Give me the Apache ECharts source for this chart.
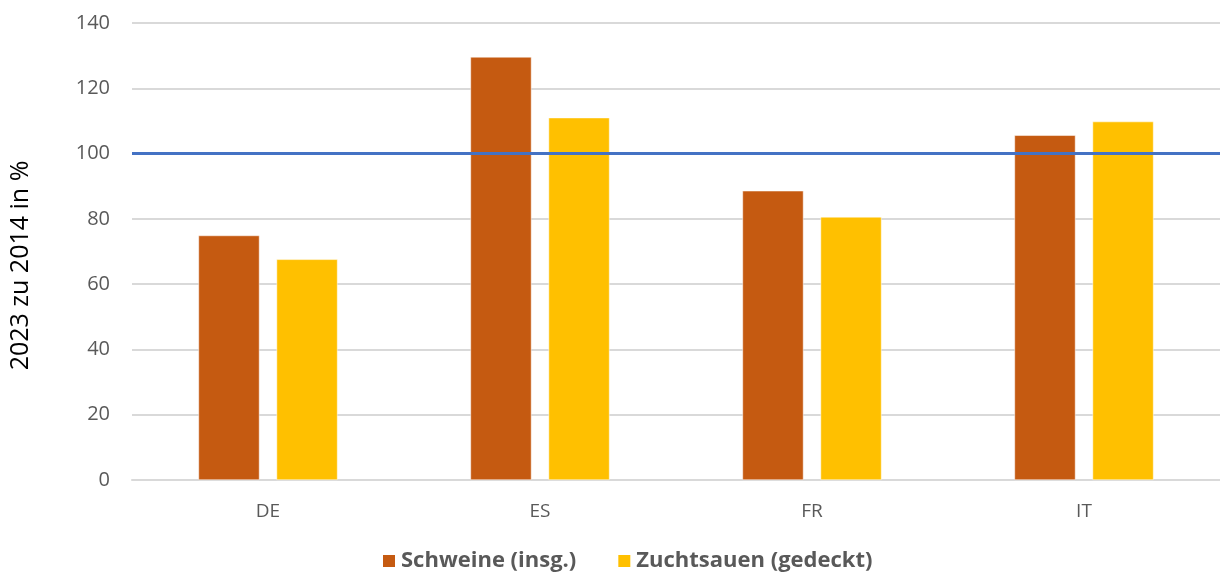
<!DOCTYPE html>
<html>
<head>
<meta charset="utf-8">
<script src="https://cdn.jsdelivr.net/npm/echarts@6/dist/echarts.min.js"></script>
<style>
  html, body { margin: 0; padding: 0; background: #fff; }
  #chart { width: 1220px; height: 573px; }
</style>
</head>
<body>
<div id="chart"></div>
<script>
// Bestandsentwicklung 2023 gegenüber 2014 (2014 = 100)
const countries = ['DE', 'ES', 'FR', 'IT'];
const schweine = [74.9, 129.6, 88.6, 105.6];
const zuchtsauen = [67.6, 111.0, 80.6, 109.8];
const yTicks = { min: 0, max: 140, interval: 20 };
const baseline = 100;
const seriesNames = ['Schweine (insg.)', 'Zuchtsauen (gedeckt)'];

const font = '"Open Sans", "Liberation Sans", sans-serif';
const chart = echarts.init(document.getElementById('chart'));

chart.setOption({
  animation: false,
  textStyle: { fontFamily: font },
  grid: { left: 132, right: 0, top: 23, bottom: 93 },
  legend: {
    data: seriesNames,
    top: 545,
    left: 376,
    itemWidth: 14,
    itemHeight: 14,
    itemGap: 40,
    icon: 'rect',
    textStyle: { color: '#595959', fontSize: 22, fontWeight: 'bold', fontFamily: font }
  },
  xAxis: {
    type: 'category',
    data: countries,
    axisLine: { lineStyle: { color: '#D9D9D9', width: 2 } },
    axisTick: { show: false },
    axisLabel: { color: '#595959', fontSize: 19, margin: 22, fontFamily: font }
  },
  yAxis: {
    type: 'value',
    min: yTicks.min,
    max: yTicks.max,
    interval: yTicks.interval,
    name: '2023 zu 2014 in %',
    nameLocation: 'middle',
    nameGap: 99,
    nameTextStyle: { color: '#000', fontSize: 25, fontFamily: font, padding: [0, 28, 0, 0] },
    axisLine: { show: false },
    axisTick: { show: false },
    axisLabel: { color: '#595959', fontSize: 20, margin: 22, fontFamily: font },
    splitLine: { lineStyle: { color: '#D9D9D9', width: 2 } }
  },
  series: [
    {
      name: seriesNames[0],
      type: 'bar',
      data: schweine,
      barWidth: 61,
      barGap: '28%',
      itemStyle: { color: '#C55A11', borderColor: '#fff', borderWidth: 0.5 },
      markLine: {
        silent: true,
        symbol: 'none',
        label: { show: false },
        lineStyle: { color: '#4472C4', width: 3, type: 'solid' },
        data: [{ yAxis: baseline }]
      },
      z: 2
    },
    {
      name: seriesNames[1],
      type: 'bar',
      data: zuchtsauen,
      barWidth: 61,
      itemStyle: { color: '#FFC000', borderColor: '#fff', borderWidth: 0.5 },
      z: 2
    }
  ]
});
</script>
</body>
</html>
